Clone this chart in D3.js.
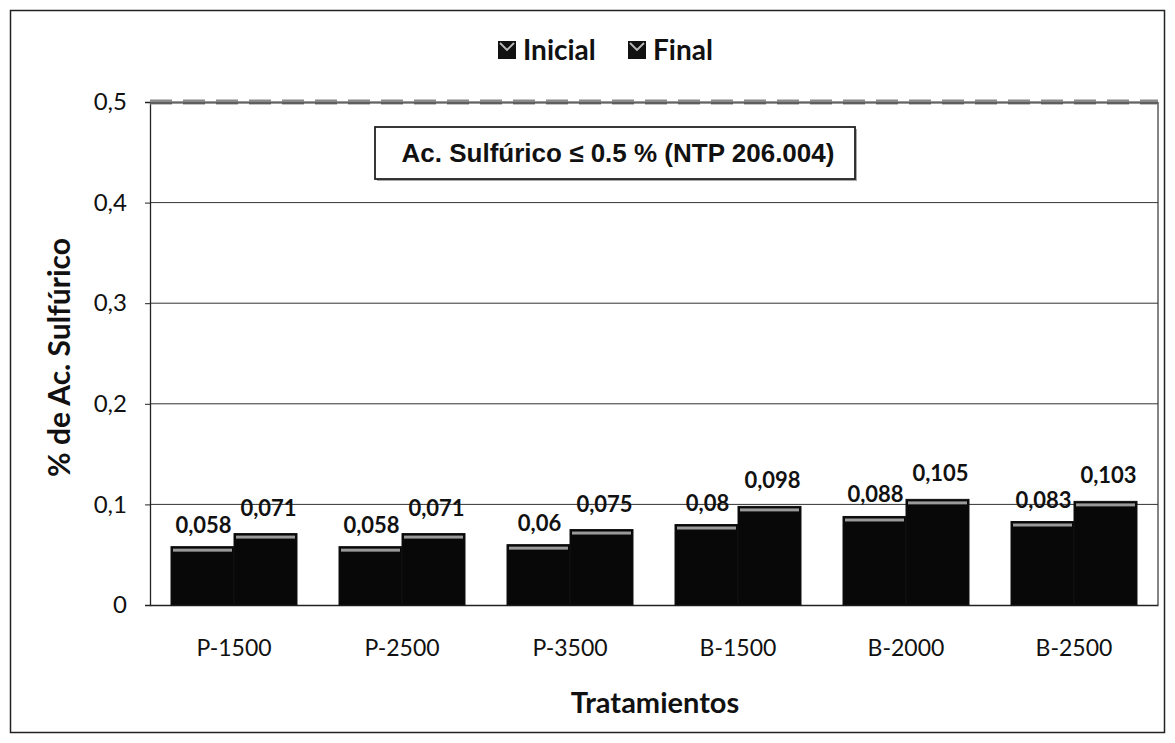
<!DOCTYPE html>
<html>
<head>
<meta charset="utf-8">
<script src="https://cdn.jsdelivr.net/npm/d3@7"></script>
<style>
  html, body { margin: 0; padding: 0; background: #fff; }
  svg { display: block; }
</style>
</head>
<body>
<svg id="chart" width="1175" height="743"></svg>
<script>
// Sulfuric acid content per treatment, initial vs final
const categories = ["P-1500", "P-2500", "P-3500", "B-1500", "B-2000", "B-2500"];
const seriesNames = ["Inicial", "Final"];
const inicial = [0.058, 0.058, 0.06, 0.08, 0.088, 0.083];
const final = [0.071, 0.071, 0.075, 0.098, 0.105, 0.103];
const yTicks = [0, 0.1, 0.2, 0.3, 0.4, 0.5];
const limitValue = 0.5;
const limitLabel = "Ac. Sulfúrico ≤ 0.5 % (NTP 206.004)";

const fmt = v => String(v).replace(".", ",");
const FONT = "Lato, 'Open Sans', sans-serif";

const svg = d3.select("#chart");
const W = 1175, H = 743;
const margin = { left: 150, right: 17, top: 102, bottom: 138 };
const plotW = W - margin.left - margin.right;
const plotH = H - margin.top - margin.bottom;

// outer frame
svg.append("rect")
  .attr("x", 10.5).attr("y", 10.5)
  .attr("width", W - 21).attr("height", H - 21)
  .attr("fill", "#fff").attr("stroke", "#222").attr("stroke-width", 1.5);

const g = svg.append("g").attr("transform", `translate(${margin.left},${margin.top})`);

const x0 = d3.scaleBand().domain(categories).range([0, plotW]).paddingInner(0.25).paddingOuter(0.125);
const x1 = d3.scaleBand().domain(seriesNames).range([0, x0.bandwidth()]);
const y = d3.scaleLinear().domain([0, 0.5]).range([plotH, 0]);

// gridlines
g.append("g")
  .selectAll("line")
  .data(yTicks.filter(t => t > 0))
  .join("line")
  .attr("x1", 0).attr("x2", plotW)
  .attr("y1", d => y(d)).attr("y2", d => y(d))
  .attr("stroke", "#333").attr("stroke-width", 1);

// right plot edge
g.append("line")
  .attr("x1", plotW).attr("x2", plotW)
  .attr("y1", 0).attr("y2", plotH)
  .attr("stroke", "#333").attr("stroke-width", 1.2);

// y axis
const yAxis = g.append("g")
  .call(d3.axisLeft(y).tickValues(yTicks).tickFormat(d => fmt(d)).tickSize(5).tickPadding(18));
yAxis.select(".domain").attr("stroke", "#222").attr("stroke-width", 1.3);
yAxis.selectAll(".tick line").attr("stroke", "#222");
yAxis.selectAll("text")
  .attr("font-family", FONT)
  .attr("font-size", 24).attr("fill", "#111");

// x axis
const xAxis = g.append("g")
  .attr("transform", `translate(0,${plotH})`)
  .call(d3.axisBottom(x0).tickSize(0).tickPadding(35));
xAxis.select(".domain").attr("stroke", "#222").attr("stroke-width", 1.3);
xAxis.selectAll("text")
  .attr("font-family", FONT)
  .attr("font-size", 23).attr("fill", "#111");

// bars
const rows = categories.map((c, i) => ({ cat: c, vals: [
  { key: "Inicial", value: inicial[i] },
  { key: "Final", value: final[i] }
] }));

const groups = g.append("g").selectAll("g")
  .data(rows)
  .join("g")
  .attr("transform", d => `translate(${x0(d.cat)},0)`);

groups.selectAll("rect")
  .data(d => d.vals)
  .join("rect")
  .attr("x", d => x1(d.key))
  .attr("y", d => y(d.value))
  .attr("width", x1.bandwidth())
  .attr("height", d => plotH - y(d.value))
  .attr("fill", "#080808")
  .attr("stroke", "#111").attr("stroke-width", 1);

// light speckled top edge on each bar
groups.selectAll("rect.hl")
  .data(d => d.vals)
  .join("rect")
  .attr("class", "hl")
  .attr("x", d => x1(d.key) + 2)
  .attr("y", d => y(d.value) + 2)
  .attr("width", x1.bandwidth() - 4)
  .attr("height", 3)
  .attr("fill", "#9a9a9a");

// value labels
groups.selectAll("text")
  .data(d => d.vals)
  .join("text")
  .attr("x", d => x1(d.key) + x1.bandwidth() / 2 + (d.key === "Inicial" ? 1 : 3))
  .attr("y", d => y(d.value) - (d.key === "Inicial" ? 14 : 18))
  .attr("text-anchor", "middle")
  .attr("font-family", FONT)
  .attr("font-weight", "bold")
  .attr("font-size", 22)
  .attr("fill", "#111")
  .text(d => fmt(d.value));

// regulatory limit line
g.append("line")
  .attr("x1", 0).attr("x2", plotW)
  .attr("y1", y(limitValue)).attr("y2", y(limitValue))
  .attr("stroke", "#8a8a8a").attr("stroke-width", 5)
  .attr("stroke-dasharray", "22,11");
g.append("line")
  .attr("x1", 0).attr("x2", plotW)
  .attr("y1", y(limitValue) + 1).attr("y2", y(limitValue) + 1)
  .attr("stroke", "#333").attr("stroke-width", 1);

// limit annotation box
const box = svg.append("g").attr("transform", "translate(375,127)");
box.append("rect")
  .attr("x", 2).attr("y", 2).attr("width", 480).attr("height", 52)
  .attr("fill", "#aaa");
box.append("rect")
  .attr("x", 0).attr("y", 0).attr("width", 480).attr("height", 52)
  .attr("fill", "#fff").attr("stroke", "#222").attr("stroke-width", 1.8);
box.append("text")
  .attr("x", 243).attr("y", 35)
  .attr("text-anchor", "middle")
  .attr("font-family", "'Liberation Sans', Arial, sans-serif")
  .attr("font-weight", "bold").attr("font-size", 26)
  .attr("fill", "#111")
  .text(limitLabel);

// legend
const legend = svg.append("g").attr("transform", "translate(498,52)");
const legItems = [{ name: "Inicial", x: 0 }, { name: "Final", x: 130 }];
legItems.forEach(it => {
  legend.append("rect")
    .attr("x", it.x).attr("y", -11).attr("width", 18).attr("height", 18)
    .attr("fill", "#111");
  legend.append("path")
    .attr("d", `M${it.x + 2},${-9} L${it.x + 9},${-2} L${it.x + 16},${-9}`)
    .attr("fill", "none").attr("stroke", "#bbb").attr("stroke-width", 1.8);
  legend.append("text")
    .attr("x", it.x + 25).attr("y", 8)
    .attr("font-family", FONT)
    .attr("font-weight", "bold").attr("font-size", 28)
    .attr("fill", "#111")
    .text(it.name);
});

// axis titles
svg.append("text")
  .attr("transform", `translate(70,${margin.top + plotH / 2 + 4}) rotate(-90)`)
  .attr("text-anchor", "middle")
  .attr("font-family", FONT)
  .attr("font-weight", "bold").attr("font-size", 30)
  .attr("fill", "#111")
  .text("% de Ac. Sulfúrico");

svg.append("text")
  .attr("x", 655).attr("y", 713)
  .attr("text-anchor", "middle")
  .attr("font-family", FONT)
  .attr("font-weight", "bold").attr("font-size", 29)
  .attr("fill", "#111")
  .text("Tratamientos");
</script>
</body>
</html>
